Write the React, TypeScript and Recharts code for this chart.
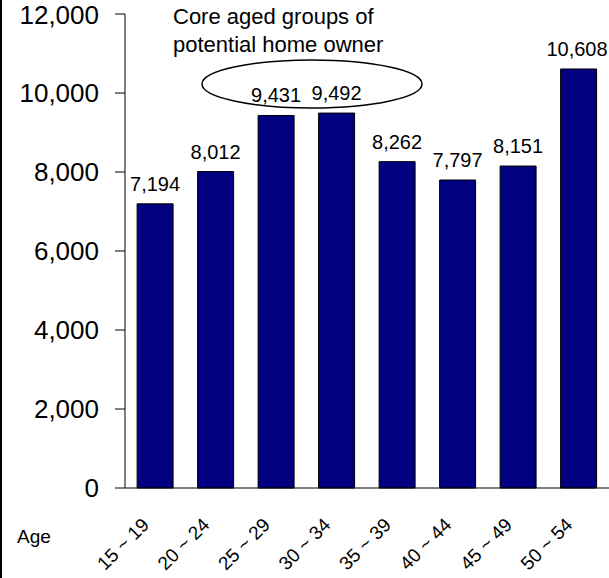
import { BarChart, Bar, XAxis, YAxis, LabelList, Customized } from 'recharts'

const ageGroups = ['15 ~ 19', '20 ~ 24', '25 ~ 29', '30 ~ 34', '35 ~ 39', '40 ~ 44', '45 ~ 49', '50 ~ 54']
const population = [7194, 8012, 9431, 9492, 8262, 7797, 8151, 10608]
const yTicks = [0, 2000, 4000, 6000, 8000, 10000, 12000]
const noteLines = ['Core aged groups of', 'potential home owner']

const data = ageGroups.map((age, i) => ({ age, value: population[i] }))

const FONT = '"Liberation Sans", Arial, sans-serif'
const fmt = (v: number) => v.toLocaleString('en-US')

const AgeTick = (props: any) => {
  const { x, payload } = props
  return (
    <g transform={`translate(${x - 5},526)`}>
      <text textAnchor="end" transform="rotate(-45)" fontSize={19} fill="#000" fontFamily={FONT}>
        {payload.value}
      </text>
    </g>
  )
}

const ValueLabel = (props: any) => {
  const { x, y, width, value } = props
  const label = fmt(value)
  const half = label.length * 0.5 * 20 / 2
  // keep the rightmost label inside the picture
  const cx = Math.min(x + width / 2, 607 - half)
  return (
    <text x={cx} y={y - 13} textAnchor="middle" fontSize={20} fill="#000" fontFamily={FONT}>
      {label}
    </text>
  )
}

const Extras = () => (
  <g fontFamily={FONT} fill="#000">
    <line x1={1} y1={0} x2={1} y2={578} stroke="#000" strokeWidth={2} />
    <ellipse cx={312} cy={84} rx={110} ry={24} fill="none" stroke="#000" strokeWidth={1.5} />
    {noteLines.map((t, i) => (
      <text key={t} x={173} y={24 + i * 28} fontSize={22}>
        {t}
      </text>
    ))}
    <text x={17} y={543} fontSize={19}>
      Age
    </text>
  </g>
)

export default function App() {
  return (
    <div style={{ position: 'absolute', left: 0, top: 0, background: '#fff' }}>
      <BarChart
        width={609}
        height={578}
        data={data}
        margin={{ top: 14, right: 0, left: 0, bottom: 0 }}
        barCategoryGap="20%"
      >
        <XAxis
          dataKey="age"
          height={90}
          axisLine={{ stroke: '#000' }}
          tickLine={false}
          tick={<AgeTick />}
          interval={0}
        />
        <YAxis
          width={125}
          domain={[0, 12000]}
          ticks={yTicks}
          tickFormatter={fmt}
          axisLine={{ stroke: '#000' }}
          tickLine={{ stroke: '#000' }}
          tickSize={10}
          tickMargin={16}
          tick={{ fill: '#000', fontSize: 26, fontFamily: FONT }}
        />
        <Bar dataKey="value" fill="#000080" stroke="#000" strokeWidth={1} isAnimationActive={false}>
          <LabelList dataKey="value" content={<ValueLabel />} />
        </Bar>
        <Customized component={Extras} />
      </BarChart>
    </div>
  )
}
